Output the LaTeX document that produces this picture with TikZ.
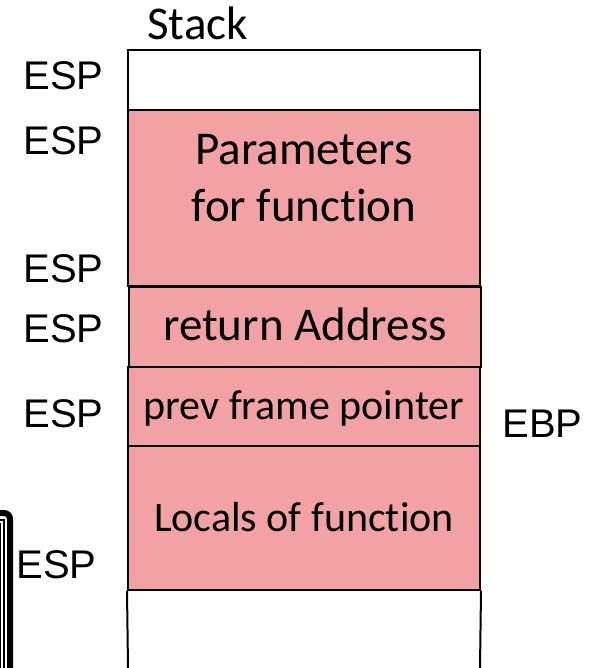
\documentclass[tikz,border=0pt]{standalone}
\usepackage{fontspec}
\setmainfont{Carlito}[Ligatures=NoCommon]
\newfontfamily\arialfont{Liberation Sans}
\definecolor{stackpink}{RGB}{242,162,165}
\tikzset{
  cell/.style={draw=black, line width=1pt, minimum width=176pt, inner sep=0pt,
    text height=13pt, text depth=0pt, font=\fontsize{21}{25}\selectfont},
  used/.style={cell, fill=stackpink},
  reg/.style={font=\arialfont\fontsize{20}{24}\selectfont, inner sep=0pt}
}
\begin{document}
\begin{tikzpicture}[x=0.5pt,y=-0.5pt]
\useasboundingbox (0,0) rectangle (596,668);
\node[cell, fill=white, minimum height=30pt] (top) at (304,80) {};
\node[used, minimum height=88pt] (params) at (304,198) {};
\node[align=center, font=\fontsize{23.5}{28.5}\selectfont] (paramtext) at (304,178) {Parameters\\for function};
\node[used, minimum height=40pt, font=\fontsize{23.5}{28}\selectfont] (ret) at (305,327) {return Address};
\node[used, minimum height=39.5pt] (prev) at (304,406.5) {prev frame pointer};
\node[used, minimum height=72pt] (locals) at (304,518) {Locals of function};
\coordinate (bl) at (128,668);
\coordinate (br) at (480,668);
\draw[line width=1pt] (locals.south west) -- (bl);
\draw[line width=1pt] (locals.south east) -- (br);
\node[anchor=base west, inner sep=0pt, font=\fontsize{23.5}{28}\selectfont] (stack) at (147,40) {Stack};
\node[reg, anchor=base east] (esp1) at (104,90) {ESP};
\node[reg, anchor=base east] (esp2) at (104,155) {ESP};
\node[reg, anchor=base east] (esp3) at (104,282) {ESP};
\node[reg, anchor=base east] (esp4) at (104,342) {ESP};
\node[reg, anchor=base east] (esp5) at (104,427) {ESP};
\node[reg, anchor=base east] (esp6) at (97,578) {ESP};
\node[reg, anchor=base west] (ebp) at (502,437) {EBP};
\draw[line width=3pt, rounded corners=3pt] (-6,513) -- (10,513) -- (10,672);
\draw[line width=0.6pt] (-6,520) -- (4,520) -- (4,672);
\draw[line width=0.6pt] (-6,524) -- (0.8,524) -- (0.8,672);
\end{tikzpicture}
\end{document}
